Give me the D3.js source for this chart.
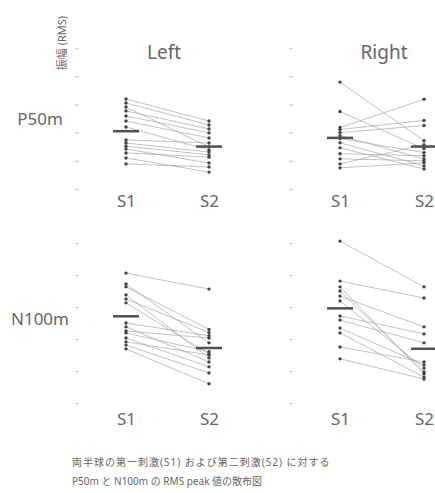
<!DOCTYPE html>
<html>
<head>
<meta charset="utf-8">
<script src="https://cdn.jsdelivr.net/npm/d3@7"></script>
<style>
  body { margin: 0; background: #fff; }
  text { font-family: "Noto Sans", "Noto Sans CJK JP", sans-serif; fill: #666; }
</style>
</head>
<body>
<div id="graph"></div>
<script>
// values in tick units (axis ticks 0..5, unlabeled)
var sessions = ["S1", "S2"];
var hemispheres = ["Left", "Right"];
var components = ["P50m", "N100m"];
var tickValues = [0, 1, 2, 3, 4, 5];

var p50LeftS1 = [3.19, 3.05, 2.91, 2.77, 2.59, 2.41, 2.20, 1.74, 1.63, 1.52, 1.42, 1.28, 1.10, 0.89];
var p50LeftS2 = [2.41, 2.27, 1.49, 2.13, 1.99, 1.81, 1.38, 1.63, 1.31, 1.21, 0.92, 1.13, 0.60, 0.78];

var p50RightS1 = [3.79, 2.75, 2.18, 2.11, 2.00, 1.89, 1.79, 1.64, 1.46, 1.25, 1.07, 0.89, 0.75];
var p50RightS2 = [1.71, 1.43, 3.18, 2.43, 2.25, 1.07, 1.29, 0.82, 0.71, 1.18, 1.00, 1.57, 0.93];

var n100LeftS1 = [4.06, 3.72, 3.63, 3.38, 3.25, 3.13, 2.50, 2.38, 2.25, 2.19, 2.03, 1.91, 1.81, 1.69];
var n100LeftS2 = [3.56, 1.88, 2.30, 1.41, 2.20, 1.53, 2.10, 1.28, 2.03, 1.60, 1.13, 1.50, 0.94, 0.60];

var n100RightS1 = [5.06, 3.81, 3.63, 3.50, 3.34, 3.19, 2.72, 2.59, 2.34, 2.19, 1.75, 1.38];
var n100RightS2 = [3.63, 3.28, 0.91, 0.97, 2.38, 1.09, 2.16, 1.88, 1.19, 0.81, 1.28, 0.75];

var yAxisLabel = "振幅 (RMS)";
var captionLines = [
    "両半球の第一刺激(S1) および第二刺激(S2) に対する",
    "P50m と N100m の RMS peak 値の散布図"
];

let svgWidth = 435;
let svgHeight = 493;

var panels = [
    { row: 0, col: 0, s1: p50LeftS1, s2: p50LeftS2 },
    { row: 0, col: 1, s1: p50RightS1, s2: p50RightS2 },
    { row: 1, col: 0, s1: n100LeftS1, s2: n100LeftS2 },
    { row: 1, col: 1, s1: n100RightS1, s2: n100RightS2 }
];

// layout per row / column
var rowRange = [[189, 48], [403, 243]];
var colRange = [[126, 209], [340, 424]];
var axisX = [77, 291];
var titleX = [164, 384];
var rowLabelY = [125, 325];
var sessionLabelY = [207, 425];

let svg = d3.select("#graph")
    .append("svg")
    .attr("width", svgWidth)
    .attr("height", svgHeight);

// y axis title
svg.append("text")
    .attr("transform", "translate(66,43) rotate(-90)")
    .attr("text-anchor", "middle")
    .attr("font-size", "11px")
    .attr("fill", "#888")
    .text(yAxisLabel);

// hemisphere titles
hemispheres.forEach((h, i) => {
    svg.append("text")
        .attr("x", titleX[i])
        .attr("y", 59)
        .attr("text-anchor", "middle")
        .attr("font-size", "19px")
        .text(h);
});

// component labels
components.forEach((c, i) => {
    svg.append("text")
        .attr("x", 40)
        .attr("y", rowLabelY[i])
        .attr("text-anchor", "middle")
        .attr("font-size", "17px")
        .text(c);
});

panels.forEach((p) => {
    let yScale = d3.scaleLinear()
        .domain([0, 5])
        .range(rowRange[p.row]);

    let xScale = d3.scalePoint()
        .domain(sessions)
        .range(colRange[p.col]);

    let g = svg.append("g");

    // tiny tick marks only
    let yAxis = d3.axisLeft(yScale)
        .tickValues(tickValues)
        .tickSize(4)
        .tickFormat("");
    let ga = g.append("g")
        .attr("transform", "translate(" + (axisX[p.col] + 2) + ",0)")
        .call(yAxis);
    ga.select(".domain").remove();
    ga.selectAll(".tick line").attr("stroke", "#d4d4d4").attr("stroke-width", 1.5);

    // session labels
    let xAxis = d3.axisBottom(xScale).tickSize(0).tickPadding(0);
    let gx = g.append("g")
        .attr("transform", "translate(0," + sessionLabelY[p.row] + ")")
        .call(xAxis);
    gx.select(".domain").remove();
    gx.selectAll(".tick text")
        .attr("dy", 0)
        .attr("font-size", "17px")
        .attr("font-family", "Noto Sans, sans-serif")
        .attr("fill", "#666");

    let pairs = p.s1.map((d, i) => [d, p.s2[i]]);

    // subject lines
    g.selectAll(".pair")
        .data(pairs)
        .enter()
        .append("line")
        .attr("x1", xScale("S1"))
        .attr("x2", xScale("S2"))
        .attr("y1", (d) => yScale(d[0]))
        .attr("y2", (d) => yScale(d[1]))
        .attr("stroke", "#a8a8a8")
        .attr("stroke-opacity", 0.7)
        .attr("stroke-width", 1);

    // points
    [p.s1, p.s2].forEach((vals, k) => {
        g.selectAll(".pt" + k)
            .data(vals)
            .enter()
            .append("circle")
            .attr("cx", xScale(sessions[k]))
            .attr("cy", (d) => yScale(d))
            .attr("r", 1.7)
            .attr("fill", "#444");

        // mean bar
        let m = d3.mean(vals);
        g.append("line")
            .attr("x1", xScale(sessions[k]) - 13)
            .attr("x2", xScale(sessions[k]) + 13)
            .attr("y1", yScale(m))
            .attr("y2", yScale(m))
            .attr("stroke", "#505050")
            .attr("stroke-width", 2.5);
    });
});

// caption
captionLines.forEach((t, i) => {
    svg.append("text")
        .attr("x", 72)
        .attr("y", 466 + i * 19)
        .attr("font-size", "10px")
        .attr("letter-spacing", i === 0 ? "1px" : "0px")
        .attr("font-family", "Noto Sans CJK JP, sans-serif")
        .attr("fill", "#777")
        .text(t);
});
</script>
</body>
</html>
